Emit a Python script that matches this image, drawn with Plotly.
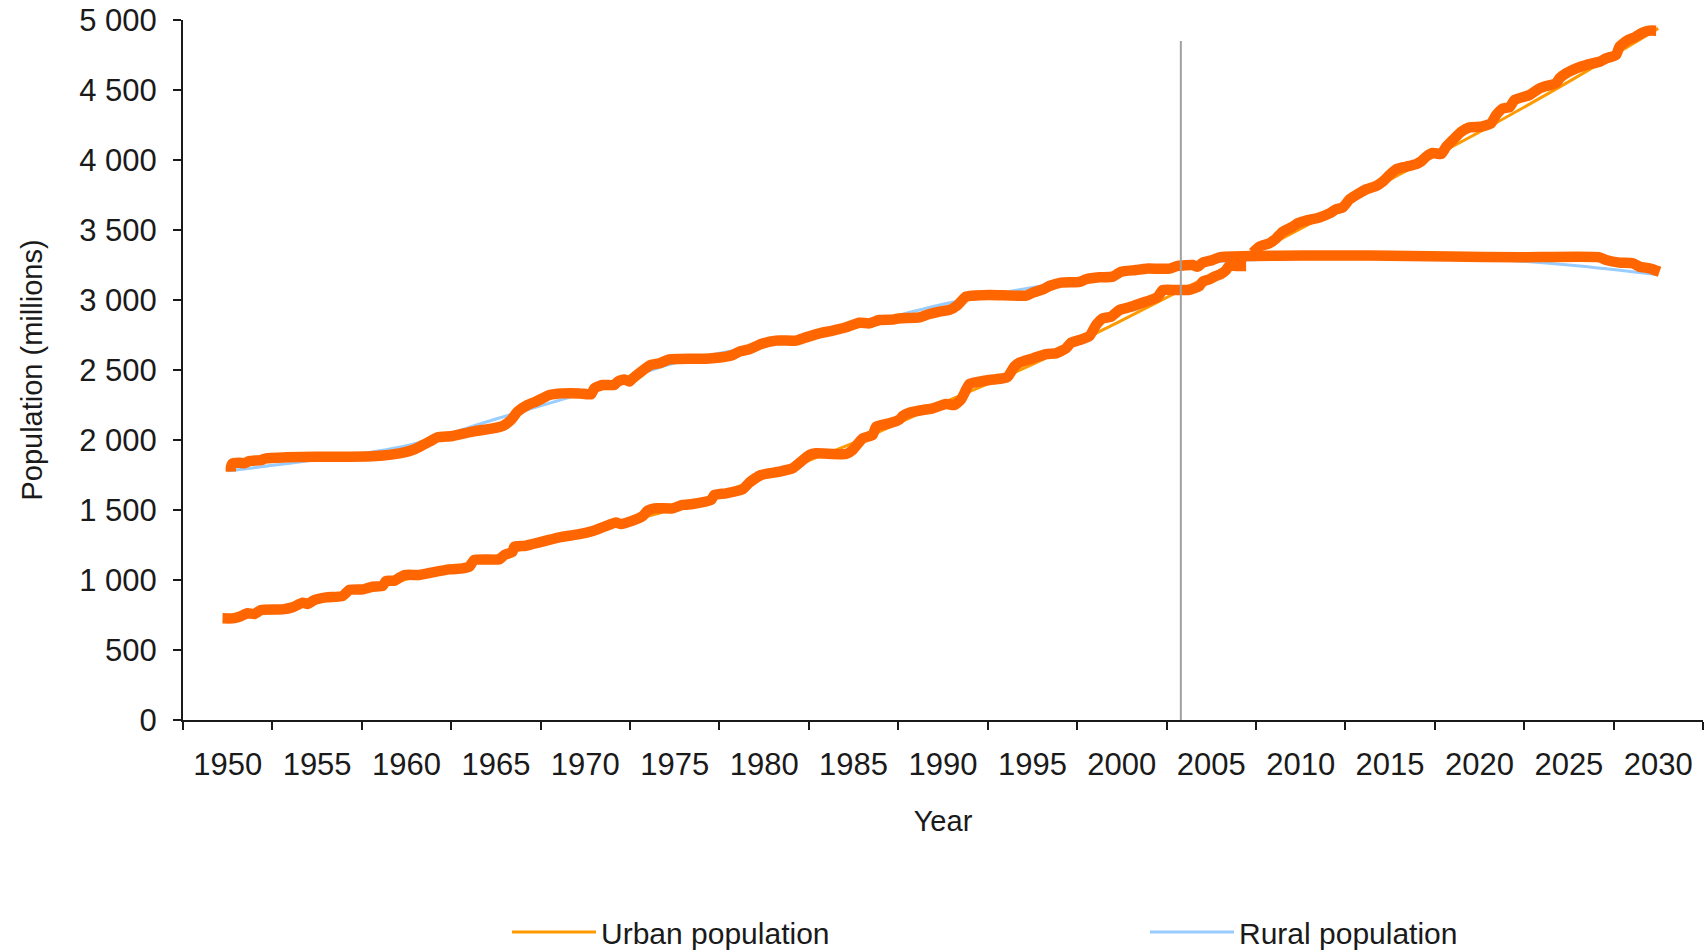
import plotly.graph_objects as go

# ---- data (millions) ----
years = [1950, 1955, 1960, 1965, 1970, 1975, 1980, 1985, 1990, 1995,
         2000, 2005, 2010, 2015, 2020, 2025, 2030]
urban = [730, 860, 1005, 1170, 1340, 1510, 1735, 1980, 2265, 2540,
         2855, 3180, 3510, 3860, 4200, 4560, 4940]
rural = [1780, 1860, 1960, 2150, 2340, 2550, 2680, 2810, 2970, 3090,
         3190, 3270, 3300, 3305, 3295, 3250, 3180]
tick_labels = [str(y) for y in years]
tick_marks = [1947.5 + 5 * i for i in range(18)]
marker_year = 2003.3

# hand-drawn highlight strokes traced over the curves (year, millions)
rural_mark_x = [1950.18, 1950.18, 1950.27, 1950.65, 1950.93, 1951.21, 1951.86, 1952.14, 1953.26, 1954.94,
                1956.80, 1958.29, 1959.60, 1960.34, 1960.81, 1961.28, 1961.74, 1962.58, 1963.70, 1964.82,
                1965.38, 1965.84, 1966.21, 1966.77, 1967.24, 1967.99, 1968.73, 1969.66, 1970.32, 1970.50,
                1970.97, 1971.62, 1971.81, 1972.18, 1972.46, 1972.65, 1973.12, 1973.67, 1974.14, 1974.70,
                1975.26, 1976.75, 1977.87, 1978.24, 1978.61, 1979.17, 1979.83, 1980.66, 1981.78, 1982.34,
                1983.09, 1983.83, 1984.58, 1985.32, 1985.88, 1986.44, 1987.19, 1987.56, 1988.68, 1989.24,
                1989.80, 1990.36, 1990.82, 1991.29, 1992.59, 1994.65, 1995.02, 1995.58, 1995.95, 1996.60,
                1997.63, 1998.00, 1998.75, 1999.49, 1999.96, 2000.80, 2001.36, 2002.66, 2003.13, 2003.97,
                2004.24, 2004.52, 2005.08, 2005.46, 2007.32, 2010.12, 2013.85, 2018.32, 2022.23, 2026.71,
                2027.08, 2027.83, 2028.58, 2028.95, 2029.51, 2030.07]
rural_mark_y = [1774, 1805, 1833, 1838, 1833, 1850, 1857, 1869, 1876, 1881,
                1881, 1886, 1905, 1929, 1957, 1988, 2019, 2029, 2060, 2083,
                2100, 2143, 2202, 2250, 2274, 2321, 2333, 2333, 2326, 2369,
                2393, 2393, 2417, 2433, 2417, 2440, 2488, 2536, 2548, 2576,
                2579, 2581, 2595, 2607, 2631, 2648, 2686, 2710, 2710, 2733,
                2762, 2781, 2805, 2838, 2833, 2857, 2860, 2869, 2876, 2900,
                2917, 2929, 2964, 3024, 3036, 3031, 3052, 3076, 3100, 3124,
                3129, 3148, 3162, 3167, 3202, 3214, 3224, 3224, 3244, 3250,
                3238, 3267, 3286, 3305, 3314, 3317, 3317, 3310, 3305, 3305,
                3286, 3267, 3262, 3238, 3226, 3202]

urban_mark1_x = [1949.71, 1950.27, 1950.65, 1951.11, 1951.49, 1951.86, 1953.07, 1953.63, 1954.19, 1954.47,
                 1954.84, 1955.50, 1956.43, 1956.80, 1957.54, 1958.10, 1958.66, 1958.85, 1959.32, 1959.88,
                 1960.71, 1961.46, 1962.39, 1963.14, 1963.51, 1963.79, 1965.19, 1965.47, 1965.93, 1966.03,
                 1966.59, 1967.05, 1967.80, 1968.55, 1969.66, 1970.41, 1971.06, 1971.72, 1971.99, 1972.65,
                 1973.21, 1973.48, 1973.86, 1974.88, 1975.44, 1976.00, 1977.03, 1977.21, 1977.87, 1978.80,
                 1979.17, 1979.83, 1980.85, 1981.59, 1982.06, 1982.53, 1982.90, 1984.58, 1984.95, 1985.51,
                 1986.07, 1986.26, 1987.00, 1987.56, 1987.75, 1988.12, 1988.86, 1989.42, 1990.17, 1990.64,
                 1991.01, 1991.48, 1992.04, 1992.59, 1993.34, 1993.62, 1993.99, 1994.27, 1995.02, 1995.77,
                 1996.32, 1996.88, 1997.16, 1997.63, 1998.19, 1998.56, 1998.93, 1999.40, 1999.87, 2000.42,
                 2001.17, 2001.73, 2002.01, 2002.29, 2003.03, 2003.78, 2004.34, 2004.52, 2004.90, 2005.18,
                 2005.55, 2005.83, 2006.01, 2006.39, 2006.95]
urban_mark1_y = [726, 726, 738, 762, 757, 786, 790, 805, 838, 829,
                 857, 876, 886, 929, 933, 952, 957, 993, 995, 1036,
                 1036, 1055, 1076, 1083, 1095, 1143, 1148, 1179, 1202, 1238,
                 1243, 1257, 1281, 1305, 1327, 1350, 1381, 1410, 1400, 1424,
                 1457, 1495, 1512, 1512, 1536, 1543, 1571, 1607, 1619, 1648,
                 1695, 1750, 1774, 1798, 1845, 1893, 1905, 1900, 1929, 2012,
                 2036, 2095, 2119, 2146, 2171, 2195, 2214, 2226, 2257, 2250,
                 2290, 2400, 2417, 2429, 2440, 2452, 2524, 2552, 2583, 2614,
                 2619, 2655, 2695, 2714, 2743, 2821, 2869, 2881, 2929, 2948,
                 2981, 3005, 3024, 3071, 3071, 3073, 3100, 3131, 3148, 3167,
                 3186, 3214, 3245, 3243, 3243]

urban_mark2_x = [2007.32, 2007.69, 2008.25, 2008.63, 2009.00, 2009.56, 2009.84, 2010.31, 2011.05, 2011.61,
                 2011.99, 2012.36, 2012.73, 2013.11, 2013.66, 2014.22, 2014.59, 2014.97, 2015.34, 2015.90,
                 2016.46, 2016.74, 2017.02, 2017.39, 2017.86, 2018.14, 2018.51, 2018.98, 2019.44, 2020.10,
                 2020.65, 2020.93, 2021.31, 2021.68, 2021.96, 2022.80, 2023.36, 2023.73, 2024.29, 2024.47,
                 2024.85, 2025.41, 2025.97, 2026.71, 2027.08, 2027.64, 2027.83, 2028.30, 2028.67, 2029.13,
                 2029.51, 2029.88]
urban_mark2_y = [3338, 3381, 3405, 3440, 3488, 3524, 3548, 3567, 3590, 3619,
                 3648, 3662, 3719, 3750, 3790, 3814, 3845, 3893, 3933, 3952,
                 3971, 3990, 4024, 4050, 4043, 4095, 4143, 4202, 4233, 4238,
                 4262, 4321, 4369, 4376, 4429, 4464, 4512, 4529, 4548, 4583,
                 4619, 4655, 4679, 4702, 4726, 4750, 4810, 4857, 4876, 4910,
                 4924, 4924]

FONT = "Liberation Sans, Arial, sans-serif"
MARK = "#FF6600"
TXT = "#1a1a1a"

fig = go.Figure()
fig.add_trace(go.Scatter(x=years, y=urban, mode="lines", name="Urban population",
                         legend="legend",
                         line=dict(color="#FF9900", width=3, shape="spline")))
fig.add_trace(go.Scatter(x=years, y=rural, mode="lines", name="Rural population",
                         legend="legend2",
                         line=dict(color="#99CCFF", width=3, shape="spline")))
for mx, my in [(rural_mark_x, rural_mark_y), (urban_mark1_x, urban_mark1_y),
               (urban_mark2_x, urban_mark2_y)]:
    fig.add_trace(go.Scatter(x=mx, y=my, mode="lines", showlegend=False, hoverinfo="skip",
                             line=dict(color=MARK, width=10.5, shape="spline", smoothing=0.5)))

fig.add_shape(type="line", x0=marker_year, x1=marker_year, y0=0, y1=4850,
              xref="x", yref="y", layer="above", line=dict(color="#A0A0A0", width=2))

legend_common = dict(orientation="h", xref="container", yref="container",
                     xanchor="left", y=1 - 932 / 952, yanchor="middle",
                     font=dict(size=30, color=TXT), itemwidth=84,
                     bgcolor="rgba(0,0,0,0)", borderwidth=0)

fig.update_layout(
    width=1704, height=952,
    margin=dict(l=183, r=1, t=20, b=232),
    paper_bgcolor="white", plot_bgcolor="white",
    font=dict(family=FONT, size=29, color=TXT),
    separators=". ",
    showlegend=True,
    legend=dict(x=507 / 1704, **legend_common),
    legend2=dict(x=1145 / 1704, **legend_common),
    xaxis=dict(range=[1947.5, 2032.5], tickmode="array", tickvals=years, ticktext=tick_labels,
               ticks="", showgrid=False, zeroline=False, showline=True, linecolor=TXT,
               linewidth=2, ticklabelstandoff=16, automargin=False,
               tickfont=dict(size=31),
               minor=dict(tickmode="array", tickvals=tick_marks, ticks="outside", ticklen=8,
                          tickwidth=2, tickcolor=TXT, showgrid=False),
               title=dict(text="Year", standoff=29, font=dict(size=29))),
    yaxis=dict(range=[0, 5000], dtick=500, tick0=0, separatethousands=True,
               ticks="outside", ticklen=8, tickwidth=2, tickcolor=TXT,
               showgrid=False, zeroline=False, showline=True, linecolor=TXT, linewidth=2,
               ticklabelstandoff=10, automargin=False, tickfont=dict(size=31),
               title=dict(text="Population (millions)", standoff=28, font=dict(size=29))),
)

fig.write_html("out.html", config={"displayModeBar": False},
               post_script="document.body.style.margin='0';")
